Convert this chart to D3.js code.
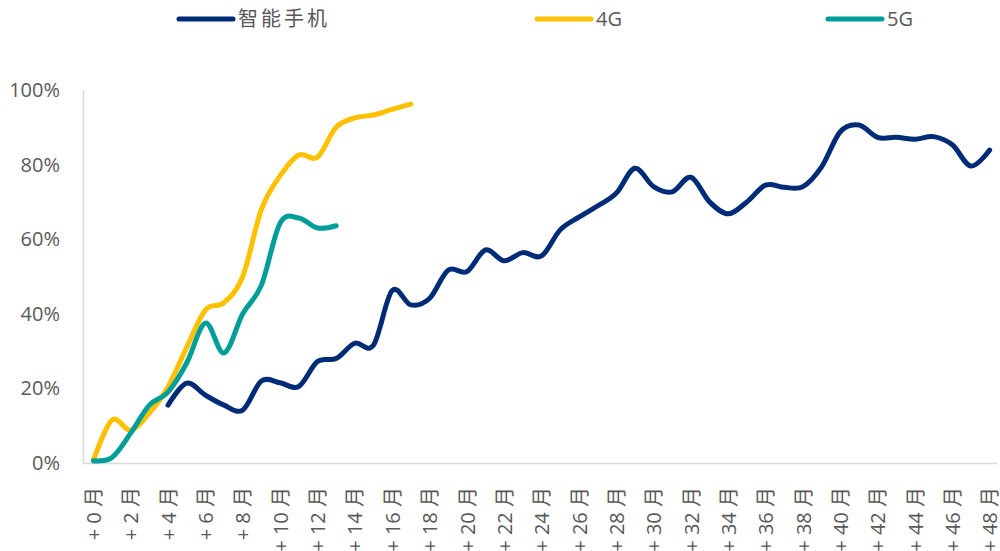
<!DOCTYPE html>
<html>
<head>
<meta charset="utf-8">
<script src="https://cdn.jsdelivr.net/npm/d3@7"></script>
<style>
  body { margin: 0; background: #fff; }
  svg { display: block; }
</style>
</head>
<body>
<svg width="1000" height="551"></svg>
<script>
(function () {

// months since launch, 0..48
var months = d3.range(0, 49);
var tickMonths = months.filter(function (m) { return m % 2 === 0; });
var yTicks = [0, 0.2, 0.4, 0.6, 0.8, 1.0];

// penetration (null = no data yet)
var smartphone = [null, null, null, null,
  0.155, 0.214, 0.182, 0.155, 0.142, 0.220, 0.215, 0.205, 0.272, 0.280, 0.321, 0.316,
  0.462, 0.424, 0.441, 0.517, 0.513, 0.571, 0.542, 0.564, 0.555, 0.625, 0.659, 0.689,
  0.723, 0.790, 0.741, 0.727, 0.766, 0.700, 0.668, 0.700, 0.745, 0.739, 0.741, 0.794,
  0.888, 0.906, 0.873, 0.873, 0.868, 0.875, 0.853, 0.796, 0.839];
var g4 = [0.006, 0.115, 0.088, 0.134, 0.204, 0.310, 0.410, 0.430, 0.500, 0.680,
  0.770, 0.826, 0.820, 0.900, 0.925, 0.933, 0.948, 0.962];
var g5 = [0.006, 0.015, 0.080, 0.155, 0.190, 0.268, 0.375, 0.295, 0.400, 0.477,
  0.643, 0.657, 0.630, 0.636];

var seriesNames = ['智能手机', '4G', '5G'];
var seriesColors = ['#002C77', '#FFC000', '#009E99'];

var svg = d3.select('svg');

var x = d3.scalePoint().domain(months).range([84, 999]).padding(0.5);
var y = d3.scaleLinear().domain([0, 1]).range([463, 90]);

var txtColor = '#595959';
var axisColor = '#D9D9D9';

// y axis
var yAxis = svg.append('g')
  .attr('transform', 'translate(83,0)')
  .call(d3.axisLeft(y).tickValues(yTicks).tickFormat(d3.format('.0%')).tickSize(0).tickPadding(23));
yAxis.select('.domain').attr('stroke', axisColor).attr('stroke-width', 1.5);
yAxis.selectAll('text')
  .style('font-family', '"Open Sans", sans-serif')
  .style('font-size', '20px')
  .attr('fill', txtColor);

// x axis
var xAxis = svg.append('g')
  .attr('transform', 'translate(0,463)')
  .call(d3.axisBottom(x).tickValues(tickMonths).tickFormat(function (m) { return '+ ' + m + ' 月'; }).tickSize(0));
xAxis.select('.domain')
  .attr('d', 'M83,0.5H997')
  .attr('stroke', axisColor).attr('stroke-width', 1.5);
xAxis.selectAll('text')
  .attr('transform', 'rotate(-90)')
  .attr('text-anchor', 'end')
  .attr('x', -24)
  .attr('y', 0)
  .attr('dy', '0.36em')
  .style('font-family', '"Open Sans", "Noto Sans CJK SC", sans-serif')
  .style('font-size', '20px')
  .attr('fill', txtColor);

// lines
var line = d3.line()
  .defined(function (d) { return d != null; })
  .x(function (d, i) { return x(months[i]); })
  .y(function (d) { return y(d); })
  .curve(d3.curveCardinal.tension(0));

[smartphone, g4, g5].forEach(function (s, k) {
  svg.append('path')
    .datum(s)
    .attr('d', line)
    .attr('fill', 'none')
    .attr('stroke', seriesColors[k])
    .attr('stroke-width', 5)
    .attr('stroke-linecap', 'round')
    .attr('stroke-linejoin', 'round');
});

// legend
var legendX = [179, 537, 828];
seriesNames.forEach(function (name, k) {
  svg.append('line')
    .attr('x1', legendX[k]).attr('x2', legendX[k] + 54)
    .attr('y1', 19).attr('y2', 19)
    .attr('stroke', seriesColors[k])
    .attr('stroke-width', 5)
    .attr('stroke-linecap', 'round');
  svg.append('text')
    .attr('x', legendX[k] + 59)
    .attr('y', 19)
    .attr('dy', '0.35em')
    .style('font-family', '"Open Sans", "Noto Sans CJK SC", sans-serif')
    .style('font-size', '20px')
    .style('letter-spacing', k === 0 ? '3px' : '0px')
    .attr('fill', txtColor)
    .text(name);
});

})();
</script>
</body>
</html>
